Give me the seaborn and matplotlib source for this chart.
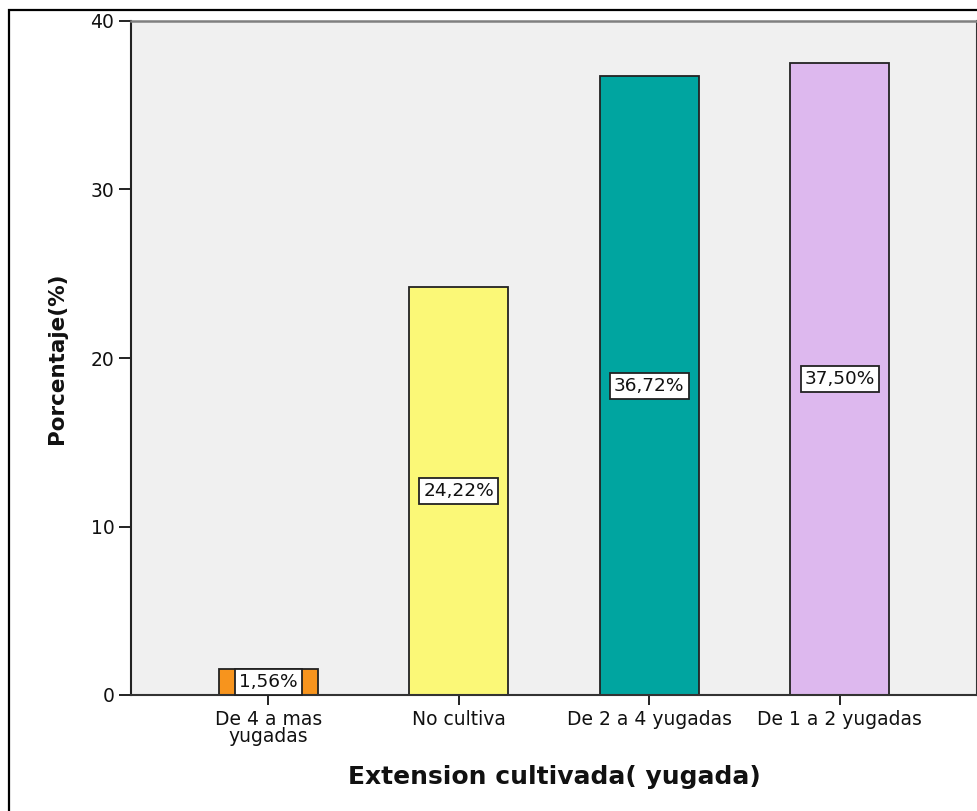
import pandas as pd
import matplotlib
matplotlib.use('Agg')
import matplotlib.pyplot as plt
from matplotlib.patches import Rectangle
import seaborn as sns

# %%

categorias = ['De 4 a mas\nyugadas', 'No cultiva',
              'De 2 a 4 yugadas', 'De 1 a 2 yugadas']
porcentajes = [1.56, 24.22, 36.72, 37.50]
colores = ['#F7941D', '#FBF877', '#00A5A0', '#DDB8EE']

df = pd.DataFrame({'categoria': categorias, 'porcentaje': porcentajes})

# %%

sns.set_style('ticks')
plt.rcParams['font.family'] = ['DejaVu Sans']

fig = plt.figure(figsize=(9.78, 8.11), dpi=100)
ax = fig.add_axes([131 / 978, 1 - 695 / 811, 846 / 978, 674 / 811])
ax.set_facecolor('#F0F0F0')

sns.barplot(data=df, x='categoria', y='porcentaje', hue='categoria',
            palette=colores, saturation=1, legend=False, width=0.52,
            edgecolor='#222222', linewidth=1.3, ax=ax)

for i, v in enumerate(porcentajes):
    ax.text(i, v / 2, f'{v:.2f}%'.replace('.', ','),
            ha='center', va='center', fontsize=13.3, color='#111111',
            bbox=dict(boxstyle='square,pad=0.22', facecolor='white',
                      edgecolor='#222222', linewidth=1.3))

ax.set_ylim(0, 40)
ax.set_xlim(-0.72, 3.72)
ax.set_yticks([0, 10, 20, 30, 40])
ax.tick_params(axis='y', length=9, width=1.3, labelsize=13.5, pad=3,
               colors='#111111')
ax.tick_params(axis='x', length=7, width=1.3, labelsize=13.5, pad=4,
               colors='#111111')
for lbl in ax.get_xticklabels():
    lbl.set_linespacing(0.82)

ax.spines['left'].set_color('#222222')
ax.spines['left'].set_linewidth(1.5)
ax.spines['bottom'].set_color('#333333')
ax.spines['bottom'].set_linewidth(1.5)
ax.spines['top'].set_color('#808080')
ax.spines['top'].set_linewidth(1.8)
ax.spines['right'].set_color('#333333')
ax.spines['right'].set_linewidth(1.5)

ax.set_xlabel('Extension cultivada( yugada)', fontsize=18,
              fontweight='bold', labelpad=14, color='#111111')
ax.set_ylabel('Porcentaje(%)', fontsize=15.5, fontweight='bold',
              labelpad=17, color='#111111')

# marco exterior
fig.patches.append(Rectangle((9 / 978, -0.05), 1.1, 1 - 10 / 811 + 0.05,
                             transform=fig.transFigure, fill=False,
                             edgecolor='black', linewidth=1.6))

plt.savefig('out.png', dpi=100)
